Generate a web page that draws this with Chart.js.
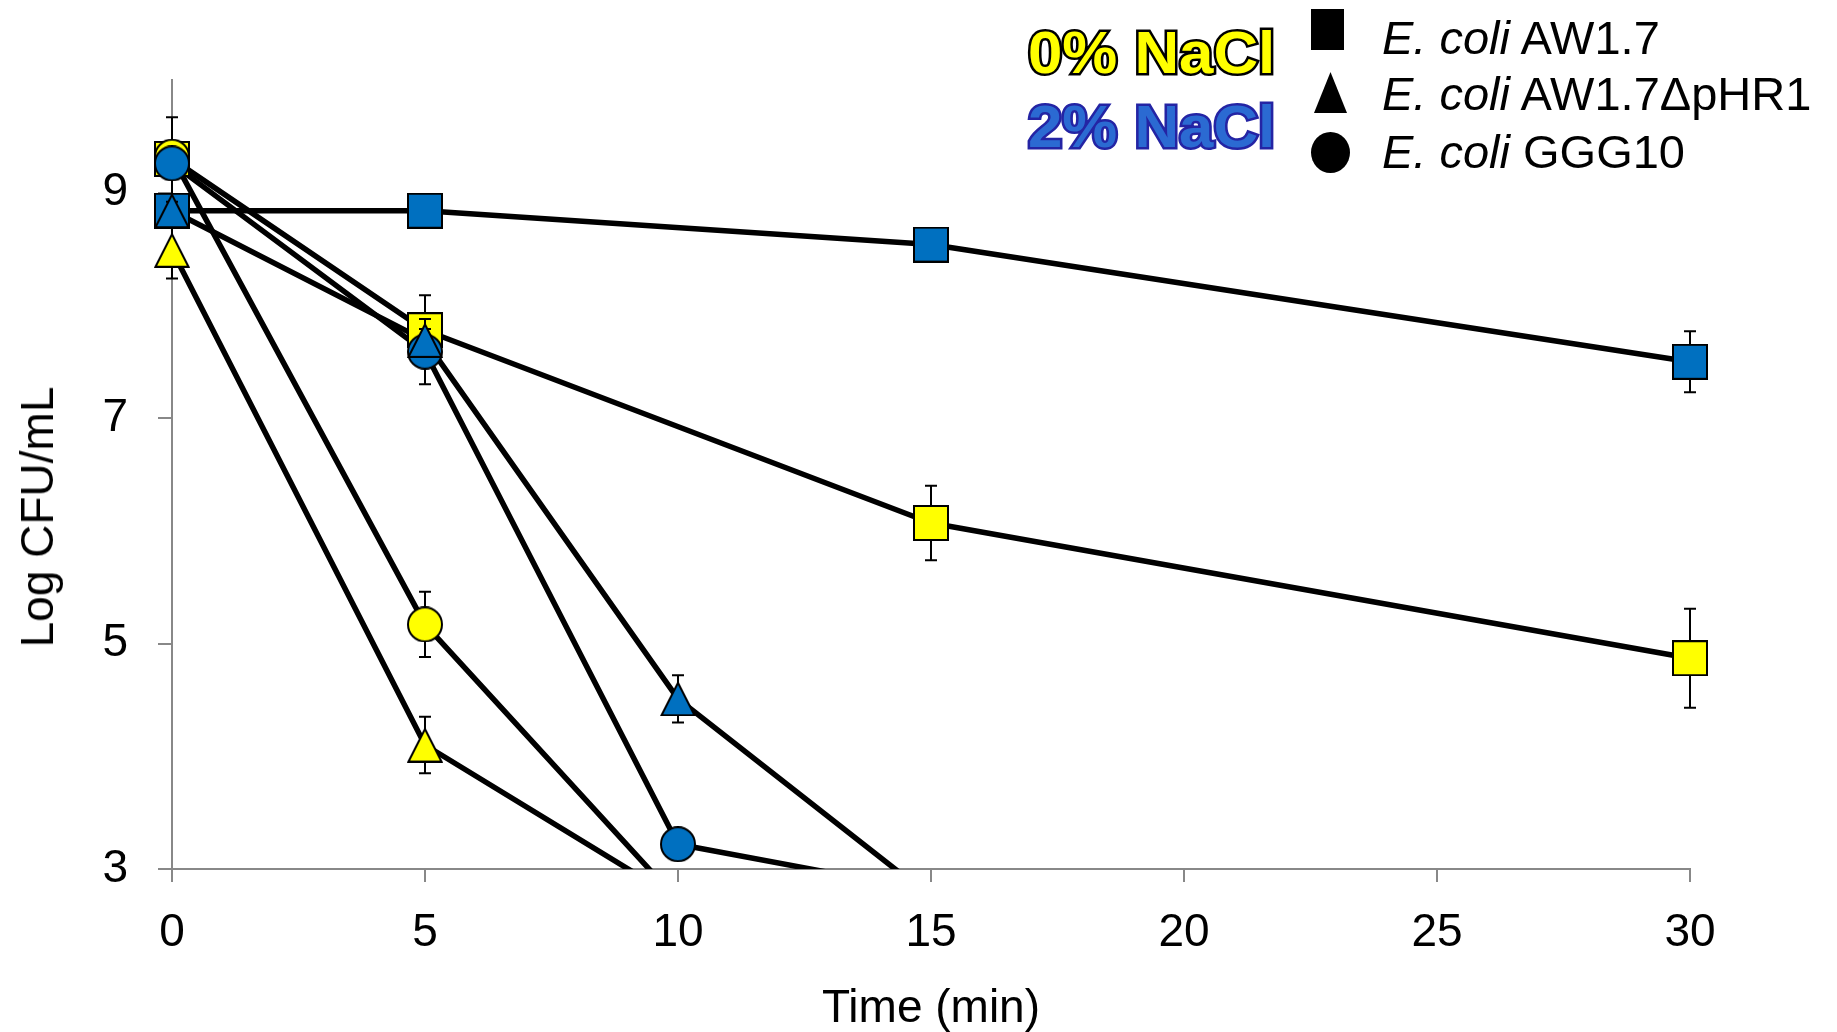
<!DOCTYPE html>
<html>
<head>
<meta charset="utf-8">
<script src="https://cdn.jsdelivr.net/npm/chart.js@4"></script>
<style>
    body { margin: 0; background: #fff; }
    #wrap { position: relative; width: 1837px; height: 1032px; font-family: "Liberation Sans", Arial, sans-serif; }
    #chart { position: absolute; left: 0; top: 0; }
    .ytitle { position: absolute; left: 37px; top: 517px; font-size: 46px; line-height: 46px; white-space: nowrap;
              transform: translate(-50%, -50%) rotate(-90deg); }
    .nacl { position: absolute; font-weight: bold; font-size: 60px; line-height: 60px; white-space: nowrap;
            transform: scaleX(1.03); transform-origin: left top; paint-order: stroke fill; }
    .nacl0 { left: 1028px; top: 23px; color: #ffff00; -webkit-text-stroke: 5px #000; }
    .nacl2 { left: 1028px; top: 97px; color: #2b6ad2; -webkit-text-stroke: 5px #2424a4; }
    .leg { position: absolute; left: 1382px; font-size: 47px; line-height: 47px; white-space: nowrap; }
    .mk { position: absolute; background: #000; }
</style>
</head>
<body>
<div id="wrap">
    <canvas id="chart" width="1837" height="1032"></canvas>
    <div class="ytitle">Log CFU/mL</div>
    <div class="nacl nacl0">0% NaCl</div>
    <div class="nacl nacl2">2% NaCl</div>
    <div class="mk" style="left:1311px;top:9px;width:33px;height:41px;"></div>
    <div class="mk" style="left:1314px;top:72px;width:33px;height:41px;clip-path:polygon(50% 0,100% 100%,0 100%);"></div>
    <div class="mk" style="left:1311px;top:132px;width:39px;height:41px;border-radius:50%;"></div>
    <div class="leg" style="top:14px;"><i>E. coli</i> AW1.7</div>
    <div class="leg" style="top:70px;"><i>E. coli</i> AW1.7ΔpHR1</div>
    <div class="leg" style="top:128px;"><i>E. coli</i> GGG10</div>
</div>
<script>
// ---- data (time in min, Log CFU/mL, SD) ----
const xTicks = [0, 5, 10, 15, 20, 25, 30];
const yTicks = [3, 5, 7, 9];

const xAW17 = [0, 5, 15, 30];
const yAW17_0 = [9.30, 7.78, 6.07, 4.87];
const eAW17_0 = [0.37, 0.31, 0.33, 0.44];
const yAW17_2 = [8.84, 8.84, 8.54, 7.50];
const eAW17_2 = [0.08, 0.08, 0.10, 0.27];

const xPHR1_0 = [0, 5, 10];
const yPHR1_0 = [8.49, 4.10, 2.73];
const ePHR1_0 = [0.25, 0.25, 0];
const xPHR1_2 = [0, 5, 10, 15];
const yPHR1_2 = [8.84, 7.69, 4.51, 2.75];
const ePHR1_2 = [0.08, 0.10, 0.21, 0];

const xGGG_0 = [0, 5, 10];
const yGGG_0 = [9.32, 5.17, 2.72];
const eGGG_0 = [0.10, 0.29, 0];
const xGGG_2 = [0, 5, 10, 15];
const yGGG_2 = [9.26, 7.59, 3.22, 2.80];
const eGGG_2 = [0.10, 0.29, 0.05, 0];

const YELLOW = "#ffff00";
const BLUE = "#0070c0";
const FONT = "'Liberation Sans', Arial, sans-serif";

// ---- marker images ----
function makeMarker(shape, fill) {
    const w = 36, h = shape === "triangle" ? 35 : 36;
    const c = document.createElement("canvas");
    c.width = w; c.height = h;
    const g = c.getContext("2d");
    g.fillStyle = fill;
    g.strokeStyle = "#000";
    g.lineWidth = 2;
    g.beginPath();
    if (shape === "square") {
        g.rect(1, 1, w - 2, h - 2);
    } else if (shape === "circle") {
        g.arc(w / 2, h / 2, w / 2 - 1, 0, Math.PI * 2);
    } else {
        g.moveTo(w / 2, 1.5);
        g.lineTo(w - 1.5, h - 1);
        g.lineTo(1.5, h - 1);
        g.closePath();
    }
    g.fill();
    g.stroke();
    return c;
}

function pts(xs, ys) {
    return xs.map((x, i) => ({ x: x, y: ys[i] }));
}

const clipBottom = { left: false, top: false, right: false, bottom: 0 };

function lineSet(xs, ys) {
    return {
        data: pts(xs, ys),
        showLine: true,
        borderColor: "#000",
        borderWidth: 5.5,
        borderJoinStyle: "round",
        pointRadius: 0,
        clip: clipBottom,
        order: 100
    };
}

function markerSet(xs, ys, errs, shape, fill, order) {
    return {
        data: pts(xs, ys),
        errors: errs,
        showLine: false,
        pointStyle: makeMarker(shape, fill),
        pointRadius: 18,
        pointBorderWidth: 0,
        clip: clipBottom,
        order: order
    };
}

// ---- error bars, drawn just before each marker set ----
const errorBars = {
    id: "errorBars",
    beforeDatasetDraw(chart, args) {
        const ds = chart.data.datasets[args.index];
        if (!ds.errors) return;
        const ctx = chart.ctx;
        const xs = chart.scales.x, ys = chart.scales.y;
        ctx.save();
        ctx.strokeStyle = "#000";
        ctx.lineWidth = 2;
        ds.data.forEach((p, i) => {
            const e = ds.errors[i];
            if (!e || p.y < 3) return;
            const px = xs.getPixelForValue(p.x);
            const top = ys.getPixelForValue(p.y + e);
            const bot = ys.getPixelForValue(p.y - e);
            ctx.beginPath();
            ctx.moveTo(px, top); ctx.lineTo(px, bot);
            ctx.moveTo(px - 6, top); ctx.lineTo(px + 6, top);
            ctx.moveTo(px - 6, bot); ctx.lineTo(px + 6, bot);
            ctx.stroke();
        });
        ctx.restore();
    }
};

const axisGrid = { drawOnChartArea: false, color: "#888", lineWidth: 2 };

new Chart(document.getElementById("chart"), {
    type: "scatter",
    data: {
        datasets: [
            lineSet(xAW17, yAW17_0),
            lineSet(xAW17, yAW17_2),
            lineSet(xPHR1_0, yPHR1_0),
            lineSet(xPHR1_2, yPHR1_2),
            lineSet(xGGG_0, yGGG_0),
            lineSet(xGGG_2, yGGG_2),
            markerSet(xAW17, yAW17_0, eAW17_0, "square", YELLOW, 6),
            markerSet(xGGG_0, yGGG_0, eGGG_0, "circle", YELLOW, 5),
            markerSet(xPHR1_0, yPHR1_0, ePHR1_0, "triangle", YELLOW, 4),
            markerSet(xGGG_2, yGGG_2, eGGG_2, "circle", BLUE, 3),
            markerSet(xAW17, yAW17_2, eAW17_2, "square", BLUE, 2),
            markerSet(xPHR1_2, yPHR1_2, ePHR1_2, "triangle", BLUE, 1)
        ]
    },
    options: {
        responsive: false,
        animation: false,
        devicePixelRatio: 1,
        layout: { padding: { top: 80, right: 147, left: 0, bottom: 0 } },
        plugins: {
            legend: { display: false },
            tooltip: { enabled: false }
        },
        scales: {
            x: {
                type: "linear",
                min: 0,
                max: 30,
                afterBuildTicks(s) { s.ticks = xTicks.map(v => ({ value: v })); },
                afterFit(s) { s.height = 163; },
                ticks: { color: "#000", padding: 24, font: { family: FONT, size: 46 } },
                grid: Object.assign({ tickLength: 13 }, axisGrid),
                border: { color: "#888", width: 2 },
                title: {
                    display: true,
                    text: "Time (min)",
                    color: "#000",
                    padding: 0,
                    font: { family: FONT, size: 46, lineHeight: 1 }
                }
            },
            y: {
                min: 3,
                max: 10,
                afterBuildTicks(s) { s.ticks = yTicks.map(v => ({ value: v })); },
                afterFit(s) { s.width = 172; },
                ticks: { color: "#000", padding: 30, font: { family: FONT, size: 46 } },
                grid: Object.assign({ tickLength: 14 }, axisGrid),
                border: { color: "#888", width: 2 }
            }
        }
    },
    plugins: [errorBars]
});
</script>
</body>
</html>
